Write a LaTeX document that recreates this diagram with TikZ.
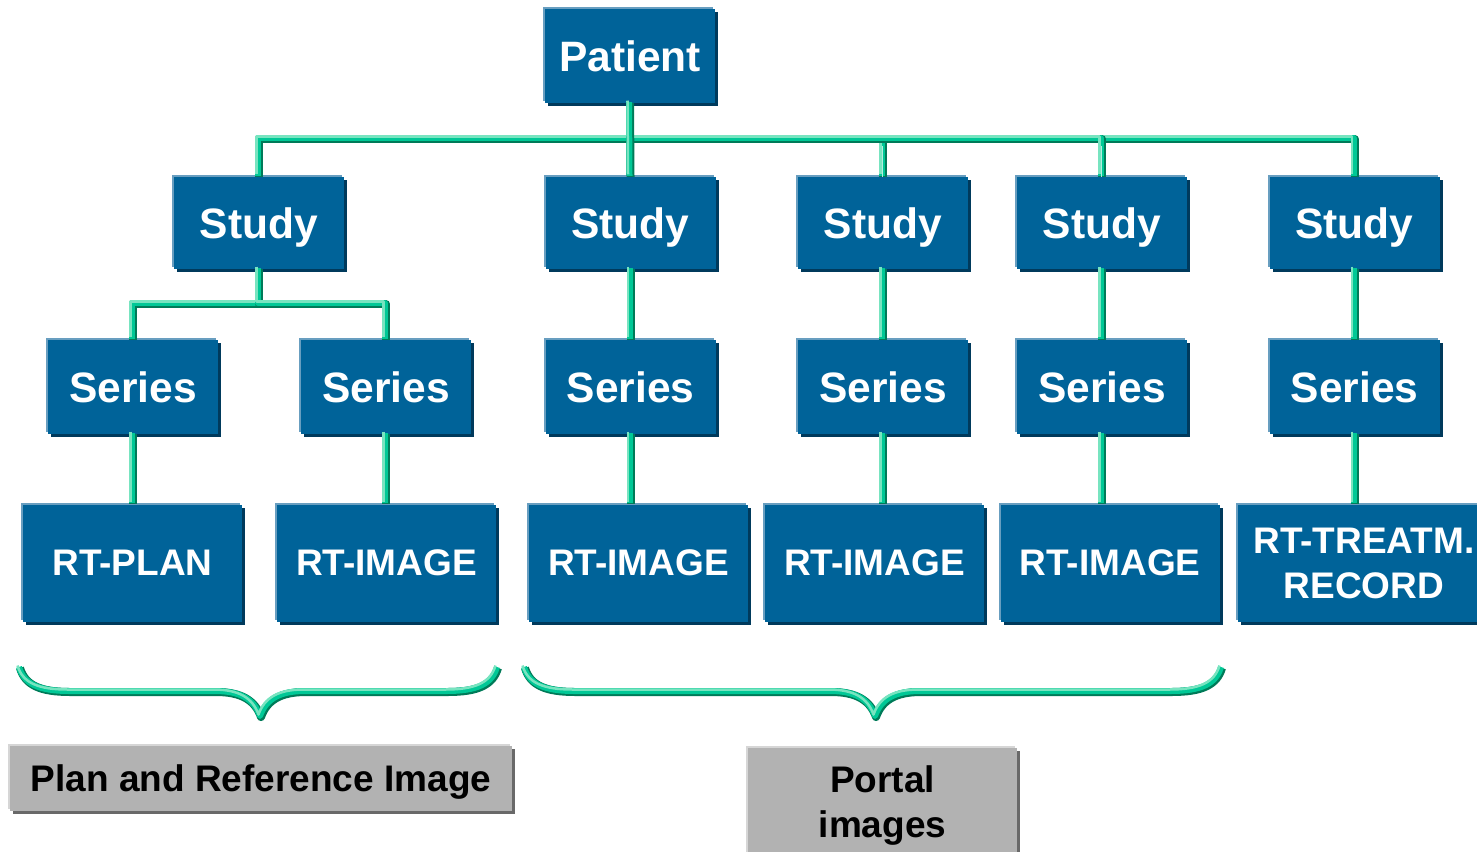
\documentclass[tikz,border=0pt]{standalone}
\usepackage{fontspec}
\setmainfont{Liberation Sans}
\usetikzlibrary{shadows}
\definecolor{bxfill}{RGB}{0,99,153}
\definecolor{bxlight}{RGB}{104,158,192}
\definecolor{bxdark}{RGB}{0,58,92}
\definecolor{gyfill}{RGB}{178,178,178}
\definecolor{gylight}{RGB}{214,214,214}
\definecolor{gydark}{RGB}{105,105,105}
\definecolor{pplight}{RGB}{120,228,192}
\definecolor{ppmid}{RGB}{0,200,150}
\definecolor{ppdark}{RGB}{0,122,88}
\tikzset{
  bluebox/.style={fill=bxfill, text=white, inner sep=0pt, text depth=0pt,
    font=\bfseries\fontsize{42.5}{48}\selectfont,
    general shadow={shadow xshift=3pt, shadow yshift=-3pt, fill=bxdark},
    general shadow={shadow xshift=-2pt, shadow yshift=2pt, fill=bxlight}},
  upper/.style={bluebox, minimum width=170pt},
  leaf/.style={bluebox, minimum width=219pt, minimum height=117pt,
    font=\bfseries\fontsize{37}{45}\selectfont, align=center},
  graybox/.style={fill=gyfill, text=black, inner sep=0pt, text depth=0pt,
    font=\bfseries\fontsize{37}{45}\selectfont, align=center,
    general shadow={shadow xshift=3pt, shadow yshift=-3pt, fill=gydark},
    general shadow={shadow xshift=-2pt, shadow yshift=2pt, fill=gylight}},
  pipeA/.style={line width=8pt, draw=ppdark, line join=round},
  pipeB/.style={line width=6pt, draw=ppmid, line join=round,
    transform canvas={shift={(-1pt,1pt)}}},
  pipeC/.style={line width=2.5pt, draw=pplight, line join=round,
    transform canvas={shift={(-2.5pt,2.5pt)}}},
  pipeH/.style={line width=1.5pt, draw=white!70!ppmid,
    transform canvas={shift={(-0.3pt,0pt)}}}
}
\newcommand\pipe[1]{%
  \draw[pipeA] #1;
  \draw[pipeB] #1;
  \draw[pipeC] #1;}
\newcommand\bracepath[3]{(#1,668) .. controls (#1+5,685) and (#1+20,692) .. (#1+50,692) -- (#2-45,692) .. controls (#2-20,692) and (#2-6,700) .. (#2,717) .. controls (#2+6,700) and (#2+20,692) .. (#2+45,692) -- (#3-50,692) .. controls (#3-20,692) and (#3-5,685) .. (#3,668)}
\begin{document}
\begin{tikzpicture}[x=1pt,y=-1pt]
\useasboundingbox (0,0) rectangle (1477,851);
% nodes
\node[upper, minimum height=94pt] (pat) at (630,56) {Patient};
\node[upper, minimum height=92pt] (s1) at (259,223) {Study};
\node[upper, minimum height=92pt] (s2) at (630.5,223) {Study};
\node[upper, minimum height=92pt] (s3) at (883,223) {Study};
\node[upper, minimum height=92pt] (s4) at (1102,223) {Study};
\node[upper, minimum height=92pt] (s5) at (1354.5,223) {Study};
\node[upper, minimum height=94pt] (r1) at (133,387) {Series};
\node[upper, minimum height=94pt] (r2) at (386,387) {Series};
\node[upper, minimum height=94pt] (r3) at (630.5,387) {Series};
\node[upper, minimum height=94pt] (r4) at (883,387) {Series};
\node[upper, minimum height=94pt] (r5) at (1102,387) {Series};
\node[upper, minimum height=94pt] (r6) at (1354.5,387) {Series};
\node[leaf] (b1) at (132.5,563) {RT-PLAN};
\node[leaf] (b2) at (386.5,563) {RT-IMAGE};
\node[leaf] (b3) at (638.5,563) {RT-IMAGE};
\node[leaf] (b4) at (874.5,563) {RT-IMAGE};
\node[leaf] (b5) at (1110,563) {RT-IMAGE};
\node[leaf, minimum width=252pt] (b6) at (1364,563) {RT-TREATM.\\RECORD};
\node[graybox, minimum width=502pt, minimum height=65pt] (g1) at (261,778.5) {Plan and Reference Image};
\node[graybox, minimum width=269pt, minimum height=108pt] (g2) at (882.5,802) {Portal\\images};
% connectors level 1
\pipe{(pat.south) -- ++(0,36) -| (s1.north)}
\pipe{(pat.south) -- ++(0,36) -| (s5.north)}
\pipe{(pat.south) -- ++(0,36) -| (s3.north)}
\pipe{(pat.south) -- ++(0,36) -| (s4.north)}
\pipe{(pat.south) -- (s2.north)}
\draw[pipeH] (s3.north) -- ++(0,-31);
\draw[pipeH] (s4.north) -- ++(0,-31);
% level 2
\pipe{(s1.south) -- ++(0,35) -| (r1.north)}
\pipe{(s1.south) -- ++(0,35) -| (r2.north)}
\foreach \k in {2,3,4,5}{
  \pgfmathtruncatemacro\kk{\k+1}
  \pipe{(s\k.south) -- (r\kk.north)}
}
% level 3
\foreach \k in {1,...,6}{
  \pipe{(r\k.south) -- (r\k.south |- b\k.north)}
}
% braces
\pipe{\bracepath{20}{261}{498}}
\pipe{\bracepath{525}{876}{1222}}
\end{tikzpicture}
\end{document}
